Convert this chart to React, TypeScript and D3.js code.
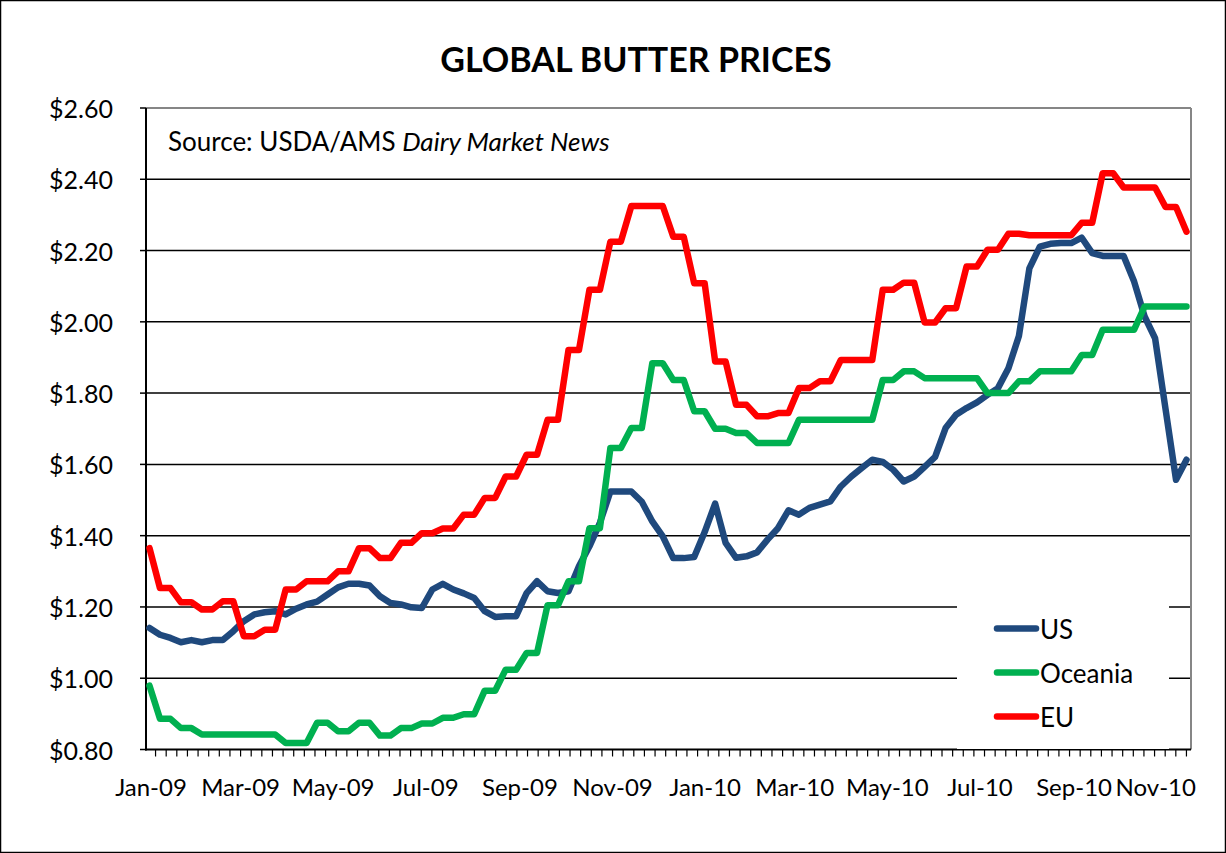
import { useRef, useEffect } from "react";
import * as d3 from "d3";

// weekly prices, $/lb
const US = [
  1.141, 1.122, 1.113, 1.101, 1.107, 1.101, 1.107, 1.107, 1.132, 1.16,
  1.179, 1.185, 1.188, 1.179, 1.195, 1.207, 1.215, 1.235, 1.255, 1.265,
  1.265, 1.26, 1.23, 1.211, 1.207, 1.199, 1.197, 1.249, 1.265, 1.249,
  1.238, 1.225, 1.188, 1.172, 1.174, 1.174, 1.239, 1.272, 1.244, 1.239,
  1.244, 1.314, 1.37, 1.436, 1.524, 1.524, 1.524, 1.495, 1.44, 1.398,
  1.337, 1.337, 1.34, 1.41, 1.49, 1.38, 1.338, 1.342, 1.353, 1.389,
  1.421, 1.471, 1.459, 1.478, 1.487, 1.496, 1.538, 1.566, 1.59, 1.613,
  1.607, 1.585, 1.552, 1.566, 1.593, 1.621, 1.702, 1.739, 1.758, 1.774,
  1.795, 1.814, 1.87, 1.96, 2.15, 2.211, 2.219, 2.221, 2.221, 2.236,
  2.193, 2.185, 2.185, 2.185, 2.113, 2.015, 1.954, 1.755, 1.557, 1.613,
];

const OCEANIA = [
  0.979, 0.886, 0.886, 0.86, 0.86, 0.842, 0.842, 0.842, 0.842, 0.842,
  0.842, 0.842, 0.842, 0.818, 0.818, 0.818, 0.875, 0.875, 0.851, 0.851,
  0.875, 0.875, 0.839, 0.839, 0.86, 0.86, 0.873, 0.873, 0.889, 0.889,
  0.899, 0.899, 0.965, 0.965, 1.024, 1.024, 1.071, 1.071, 1.205, 1.205,
  1.272, 1.272, 1.421, 1.421, 1.646, 1.646, 1.702, 1.702, 1.884, 1.884,
  1.837, 1.837, 1.749, 1.749, 1.70, 1.70, 1.688, 1.688, 1.66, 1.66,
  1.66, 1.66, 1.725, 1.725, 1.725, 1.725, 1.725, 1.725, 1.725, 1.725,
  1.837, 1.837, 1.861, 1.861, 1.842, 1.842, 1.842, 1.842, 1.842, 1.842,
  1.80, 1.80, 1.80, 1.833, 1.833, 1.861, 1.861, 1.861, 1.861, 1.907,
  1.907, 1.978, 1.978, 1.978, 1.978, 2.043, 2.043, 2.043, 2.043, 2.043,
];

const EU = [
  1.365, 1.253, 1.253, 1.213, 1.213, 1.193, 1.193, 1.216, 1.216, 1.118,
  1.118, 1.136, 1.136, 1.249, 1.249, 1.272, 1.272, 1.272, 1.30, 1.30,
  1.365, 1.365, 1.337, 1.337, 1.38, 1.38, 1.407, 1.407, 1.42, 1.42,
  1.459, 1.459, 1.506, 1.506, 1.566, 1.566, 1.627, 1.627, 1.725, 1.725,
  1.921, 1.921, 2.09, 2.09, 2.225, 2.225, 2.325, 2.325, 2.325, 2.325,
  2.239, 2.239, 2.108, 2.108, 1.889, 1.889, 1.767, 1.767, 1.735, 1.735,
  1.744, 1.744, 1.814, 1.814, 1.833, 1.833, 1.893, 1.893, 1.893, 1.893,
  2.09, 2.09, 2.11, 2.11, 1.998, 1.998, 2.038, 2.038, 2.155, 2.155,
  2.202, 2.202, 2.247, 2.247, 2.243, 2.243, 2.243, 2.243, 2.243, 2.278,
  2.278, 2.417, 2.417, 2.377, 2.377, 2.377, 2.377, 2.322, 2.322, 2.253,
];

const SERIES = [
  { name: "US", color: "#1F497D", values: US },
  { name: "Oceania", color: "#00B050", values: OCEANIA },
  { name: "EU", color: "#FF0000", values: EU },
];

const Y_TICKS = [0.8, 1.0, 1.2, 1.4, 1.6, 1.8, 2.0, 2.2, 2.4, 2.6];
const X_LABELS = [
  "2009-01-01", "2009-03-01", "2009-05-01", "2009-07-01", "2009-09-01", "2009-11-01",
  "2010-01-01", "2010-03-01", "2010-05-01", "2010-07-01", "2010-09-01", "2010-11-01",
];

const TITLE = "GLOBAL BUTTER PRICES";
const FONT = "Lato, 'Open Sans', sans-serif";

export default function App() {
  const ref = useRef<SVGSVGElement>(null);

  useEffect(() => {
    if (!ref.current) return;
    const W = 1226, H = 853;
    const plot = { left: 146, top: 108, right: 1191, bottom: 749.5 };

    const svg = d3.select(ref.current);
    svg.selectAll("*").remove();
    svg.attr("width", W).attr("height", H);

    svg.append("rect").attr("width", W).attr("height", H).attr("fill", "#fff");
    svg.append("rect").attr("x", 0.5).attr("y", 0.5).attr("width", W - 1).attr("height", H - 1)
      .attr("fill", "none").attr("stroke", "#000").attr("stroke-width", 1.5);

    const x = d3.scaleLinear().domain([0, US.length - 1]).range([149.5, 1186.5]);
    const y = d3.scaleLinear().domain([0.8, 2.6]).range([plot.bottom, plot.top]);
    const parse = d3.timeParse("%Y-%m-%d");
    const t = d3.scaleTime()
      .domain([new Date(2009, 0, 1), new Date(2010, 10, 17)])
      .range([151, plot.right]);

    // Title
    svg.append("text").attr("x", 636).attr("y", 72).attr("text-anchor", "middle")
      .attr("font-family", FONT).attr("font-weight", 700).attr("font-size", 34).attr("fill", "#000")
      .text(TITLE);

    // Grid
    Y_TICKS.filter((v) => v > 0.8 && v < 2.6).forEach((v) => {
      svg.append("line").attr("x1", plot.left).attr("x2", plot.right)
        .attr("y1", y(v)).attr("y2", y(v)).attr("stroke", "#000").attr("stroke-width", 1.5);
    });

    // Plot border (top/right grey)
    svg.append("line").attr("x1", plot.left).attr("x2", plot.right).attr("y1", plot.top).attr("y2", plot.top)
      .attr("stroke", "#868686").attr("stroke-width", 2);
    svg.append("line").attr("x1", plot.right).attr("x2", plot.right).attr("y1", plot.top).attr("y2", plot.bottom)
      .attr("stroke", "#868686").attr("stroke-width", 2);

    // Y axis
    svg.append("line").attr("x1", plot.left).attr("x2", plot.left).attr("y1", plot.top).attr("y2", plot.bottom + 1)
      .attr("stroke", "#000").attr("stroke-width", 2);
    Y_TICKS.forEach((v) => {
      svg.append("line").attr("x1", plot.left - 6).attr("x2", plot.left)
        .attr("y1", y(v)).attr("y2", y(v)).attr("stroke", "#000").attr("stroke-width", 1.5);
      svg.append("text").attr("x", 113).attr("y", y(v)).attr("text-anchor", "end")
        .attr("dominant-baseline", "central").attr("font-family", FONT).attr("font-size", 25)
        .attr("fill", "#000").text(d3.format("$.2f")(v));
    });

    // X axis
    svg.append("line").attr("x1", plot.left - 1).attr("x2", plot.right).attr("y1", plot.bottom).attr("y2", plot.bottom)
      .attr("stroke", "#000").attr("stroke-width", 2);
    t.ticks(d3.timeWeek).forEach((d) => {
      svg.append("line").attr("x1", t(d)).attr("x2", t(d))
        .attr("y1", plot.bottom).attr("y2", plot.bottom + 7).attr("stroke", "#000").attr("stroke-width", 1.2);
    });
    X_LABELS.forEach((s) => {
      const d = parse(s) as Date;
      const lbl = svg.append("text").attr("x", t(d)).attr("y", 786).attr("text-anchor", "middle")
        .attr("dominant-baseline", "central").attr("font-family", FONT).attr("font-size", 24)
        .attr("fill", "#000").text(d3.timeFormat("%b-%y")(d));
      // keep the last label inside the chart, as the spreadsheet does
      const bb = (lbl.node() as SVGTextElement).getBBox();
      if (bb.x + bb.width > 1197) lbl.attr("x", t(d) - (bb.x + bb.width - 1196));
    });

    // Source note
    const src = svg.append("text").attr("x", 168).attr("y", 151)
      .attr("font-family", FONT).attr("font-size", 26).attr("fill", "#000");
    src.append("tspan").text("Source: USDA/AMS ");
    src.append("tspan").attr("font-style", "italic").text("Dairy Market News");

    // Lines
    const line = d3.line<number>().x((_, i) => x(i)).y((v) => y(v));
    SERIES.forEach((s) => {
      svg.append("path").attr("d", line(s.values) ?? "").attr("fill", "none")
        .attr("stroke", s.color).attr("stroke-width", 6.5)
        .attr("stroke-linejoin", "round").attr("stroke-linecap", "round");
    });

    // Legend
    const lg = svg.append("g");
    lg.append("rect").attr("x", 957).attr("y", 606).attr("width", 212).attr("height", 143)
      .attr("fill", "#fff");
    SERIES.forEach((s, i) => {
      const ly = 628.5 + i * 44;
      lg.append("line").attr("x1", 997).attr("x2", 1036).attr("y1", ly).attr("y2", ly)
        .attr("stroke", s.color).attr("stroke-width", 6.5).attr("stroke-linecap", "round");
      lg.append("text").attr("x", 1040).attr("y", ly).attr("dominant-baseline", "central")
        .attr("font-family", FONT).attr("font-size", 26).attr("fill", "#000").text(s.name);
    });
  }, []);

  return <svg ref={ref} style={{ position: "absolute", left: 0, top: 0, display: "block" }} />;
}
